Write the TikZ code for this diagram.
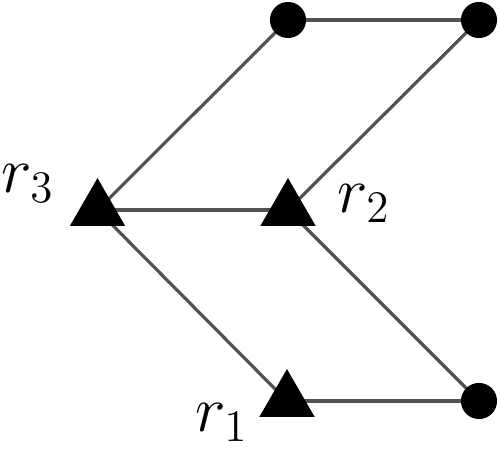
\documentclass[tikz,border=0pt]{standalone}
\usetikzlibrary{shapes.geometric, backgrounds}

\begin{document}
\begin{tikzpicture}[x=0.266pt, y=-0.266pt, font=\LARGE]

	\tikzset{
		tri/.style={regular polygon, regular polygon sides=3, fill=black, draw=none, minimum size=17pt, inner sep=0pt},
		dot/.style={circle, fill=black, draw=none, minimum size=9.6pt, inner sep=0pt},
		edge/.style={draw=black!68, line width=0.85pt},
		lbl/.style={anchor=base west, inner sep=0pt}
	}

	% cornice
	\useasboundingbox (0, 0) rectangle (498, 451);

	% --- nodi ---
	\node[tri] (r3) at (97.5, 210) {};
	\node[tri] (r2) at (288, 210) {};
	\node[tri] (r1) at (287, 401) {};

	\node[dot] (c1) at (288, 20) {};
	\node[dot] (c2) at (479, 20) {};
	\node[dot] (c3) at (479, 401) {};

	% --- archi (sotto i nodi) ---
	\begin{scope}[on background layer]
		\draw[edge] (r3.center) -- (c1.center);
		\draw[edge] (c1.center) -- (c2.center);
		\draw[edge] (c2.center) -- (r2.center);
		\draw[edge] (r3.center) -- (r2.center);
		\draw[edge] (r3.center) -- (r1.center);
		\draw[edge] (r2.center) -- (c3.center);
		\draw[edge] (r1.center) -- (c3.center);
	\end{scope}

	% --- etichette ---
	\node[lbl] (l3) at (1, 193) {$r_3$};
	\node[lbl] (l2) at (337, 213) {$r_2$};
	\node[lbl] (l1) at (195, 432) {$r_1$};

\end{tikzpicture}
\end{document}
